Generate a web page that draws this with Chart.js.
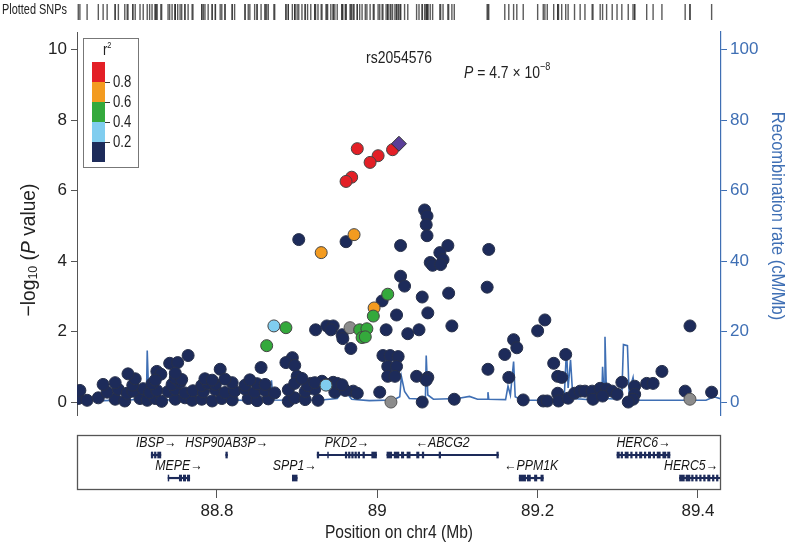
<!DOCTYPE html>
<html>
<head>
<meta charset="utf-8">
<script src="https://cdn.jsdelivr.net/npm/chart.js@4.4.1/dist/chart.umd.min.js"></script>
<style>
  html, body { margin: 0; padding: 0; background: #fff; }
  #wrap { position: relative; width: 791px; height: 547px; overflow: hidden; }
  canvas { position: absolute; left: 0; }
  #mainChart { top: 0; }
  #snpStrip { top: 0; }
  #geneChart { top: 425px; }
</style>
</head>
<body>
<div id="wrap">
  <canvas id="mainChart" width="791" height="430"></canvas>
  <canvas id="snpStrip" width="791" height="24"></canvas>
  <canvas id="geneChart" width="791" height="122"></canvas>
</div>
<script>
// SNPs: [position on chr4 (Mb), -log10 P], grouped by r2 with the lead SNP
const SNP_NAVY = [
  [88.902,4.61],[88.961,4.55],[89.029,4.44],[89.059,5.45],[89.062,5.28],[89.061,5.03],[89.062,4.72],
  [89.088,4.44],[89.078,4.24],[89.082,4.04],[89.066,3.96],[89.069,3.88],[89.079,3.90],[89.029,3.57],
  [89.034,3.29],[89.139,4.33],[89.137,3.26],[89.056,2.98],[89.006,2.87],[89.024,2.47],[89.089,3.09],
  [89.063,2.53],[89.093,2.16],[89.038,1.94],[89.052,2.05],[89.011,2.05],[89.200,2.02],[89.209,2.33],
  [89.170,1.77],[89.174,1.54],[89.159,1.35],[89.138,0.93],[88.923,2.05],[88.937,2.16],[88.945,2.16],
  [88.942,2.05],[88.956,1.91],[88.957,1.80],[88.967,1.52],[89.007,1.32],[89.016,1.32],[89.026,1.29],
  [89.013,1.01],[89.024,1.01],[89.013,0.73],[89.022,0.73],[89.049,0.73],[89.056,0.00],[89.063,0.70],
  [89.061,0.62],[89.164,0.70],[89.096,0.08],[89.182,0.06],[89.207,0.03],[89.212,0.03],[89.220,1.10],
  [89.235,1.35],[89.225,0.73],[89.230,0.70],[89.225,0.25],[89.226,0.03],[89.238,0.11],[89.246,0.25],
  [89.253,0.31],[89.259,0.31],[89.268,0.31],[89.269,0.08],[89.278,0.39],[89.286,0.37],[89.293,0.31],
  [89.299,0.22],[89.281,0.17],[89.305,0.56],[89.321,0.45],[89.321,0.22],[89.319,0.08],[89.313,0.00],
  [89.336,0.53],[89.344,0.53],[89.355,0.87],[89.390,2.16],[89.384,0.31],[89.417,0.28],
  [88.764,1.32],[88.741,1.10],[88.751,1.12],[88.725,0.87],[88.730,0.79],[88.804,0.93],[88.855,0.98],
  [88.894,1.26],[88.886,1.12],[88.897,1.04],[88.900,0.73],[88.917,0.53],[88.931,0.59],[88.945,0.56],
  [88.956,0.45],[88.970,0.31],[89.003,0.28],
  [88.627,0.10],[88.638,0.05],[88.652,0.12],[88.673,0.08],[88.685,0.03],[88.704,0.10],[88.713,0.05],
  [88.723,0.10],[88.731,0.02],[88.748,0.08],[88.760,0.12],[88.769,0.05],[88.781,0.08],[88.794,0.03],
  [88.806,0.10],[88.819,0.06],[88.839,0.10],[88.850,0.04],[88.864,0.09],[88.889,0.02],[88.897,0.12],
  [88.910,0.07],[88.926,0.05],
  [88.629,0.33],[88.663,0.28],[88.677,0.36],[88.688,0.25],[88.695,0.31],[88.708,0.38],[88.716,0.27],
  [88.725,0.33],[88.739,0.30],[88.748,0.36],[88.760,0.26],[88.770,0.32],[88.783,0.29],[88.798,0.35],
  [88.810,0.27],[88.822,0.31],[88.835,0.37],[88.847,0.28],[88.860,0.33],[88.872,0.26],[88.889,0.35],
  [88.910,0.30],[88.922,0.36],[88.947,0.28],[88.960,0.33],[88.975,0.25],
  [88.658,0.50],[88.673,0.55],[88.695,0.48],[88.719,0.52],[88.744,0.50],[88.754,0.56],[88.781,0.47],
  [88.789,0.53],[88.798,0.50],[88.819,0.55],[88.835,0.48],[88.850,0.52],[88.860,0.50],[88.897,0.53],
  [88.913,0.47],[88.922,0.55],[88.938,0.50],[88.950,0.53],[88.956,0.49],
  [88.698,0.66],[88.723,0.62],[88.748,0.68],[88.756,0.64],[88.785,0.66],[88.794,0.62],[88.810,0.65],
  [88.841,0.63],[88.906,0.67],[88.689,0.80],[88.748,0.82]
];
const SNP_LIGHTBLUE = [[88.871,2.16],[88.936,0.48]];
const SNP_GREEN = [[88.995,2.44],[89.013,3.06],[88.886,2.11],[88.862,1.60],[88.978,2.05],[88.987,2.08],[88.981,1.83],[88.985,1.85]];
const SNP_ORANGE = [[88.971,4.75],[88.930,4.24],[88.996,2.67]];
const SNP_RED = [[88.975,7.19],[89.001,6.99],[88.991,6.80],[88.968,6.38],[88.961,6.26],[89.019,7.16]];
const SNP_GRAY = [[88.966,2.11],[89.017,0.00],[89.390,0.08]];
const LEAD_SNP = [[89.027,7.33]];
const LEAD_NAME = 'rs2054576';

// recombination rate: [position (Mb), cM/Mb]
const RECOMB_RATE = [
  [88.624,0.3],[88.640,0.5],[88.652,1.2],[88.658,0.4],[88.690,0.6],[88.705,0.8],[88.712,1.0],[88.713,14.6],
  [88.715,0.8],[88.740,0.6],[88.760,0.5],[88.790,1.5],[88.795,0.5],[88.820,0.6],[88.845,0.4],[88.866,0.6],
  [88.868,6.2],[88.870,0.6],[88.900,0.5],[88.930,0.6],[88.950,1.0],[88.955,2.5],[88.962,2.5],[88.968,0.8],
  [88.990,0.4],[89.020,0.6],[89.028,1.5],[89.030,7.3],[89.034,3.0],[89.040,1.0],[89.060,0.8],[89.061,13.2],
  [89.063,2.0],[89.070,0.8],[89.100,1.0],[89.115,1.6],[89.125,0.8],[89.137,0.8],[89.138,2.8],[89.139,0.8],
  [89.160,0.7],[89.163,4.5],[89.166,2.0],[89.170,11.5],[89.172,1.5],[89.180,0.5],[89.233,0.5],[89.236,15.2],
  [89.238,4.0],[89.241,12.0],[89.244,1.0],[89.270,0.6],[89.280,0.8],[89.281,10.0],[89.283,1.0],[89.284,18.5],
  [89.286,1.0],[89.300,0.8],[89.305,2.0],[89.307,16.3],[89.312,16.0],[89.314,3.0],[89.319,7.0],[89.322,0.5],
  [89.410,0.5],[89.420,1.5],[89.430,0.8]
];

// genes
const GENE_NAMES  = ['IBSP','HSP90AB3P','PKD2','ABCG2','HERC6','MEPE','SPP1','PPM1K','HERC5'];
const GENE_START  = [88.718, 88.811, 88.925, 89.012, 89.299, 88.739, 88.894, 89.177, 89.377];
const GENE_END    = [88.730, 88.813, 88.999, 89.151, 89.365, 88.766, 88.900, 89.207, 89.430];
const GENE_STRAND = [1, 1, 1, -1, 1, 1, 1, -1, 1];
const GENE_ROW    = [1, 1, 1, 1, 1, 2, 2, 2, 2];
const GENE_EXONS  = [
  [[88.718,88.720],[88.722,88.724],[88.726,88.730]],
  [[88.811,88.813]],
  [[88.925,88.927],[88.938,88.939],[88.960,88.962],[88.964,88.966],[88.968,88.970],[88.972,88.974],[88.976,88.978],[88.982,88.984],[88.993,88.999]],
  [[89.012,89.018],[89.021,89.027],[89.030,89.033],[89.037,89.041],[89.049,89.052],[89.056,89.058],[89.077,89.079],[89.149,89.151]],
  [[89.299,89.302],[89.304,89.306],[89.309,89.313],[89.316,89.318],[89.322,89.324],[89.327,89.330],[89.333,89.335],[89.338,89.341],[89.344,89.346],[89.349,89.353],[89.356,89.360],[89.362,89.365]],
  [[88.739,88.740],[88.753,88.756],[88.758,88.761],[88.763,88.766]],
  [[88.894,88.900]],
  [[89.177,89.185],[89.187,89.191],[89.196,89.199],[89.204,89.207]],
  [[89.377,89.383],[89.385,89.390],[89.392,89.394],[89.397,89.399],[89.402,89.404],[89.407,89.409],[89.412,89.415],[89.418,89.420],[89.423,89.425],[89.428,89.430]]
];

// ticks
const POS_TICKS = [88.8, 89, 89.2, 89.4];
const POS_TICK_LABELS = ['88.8', '89', '89.2', '89.4'];
const LOGP_TICKS = [0, 2, 4, 6, 8, 10];
const RECOMB_TICKS = [0, 20, 40, 60, 80, 100];
const LD_LABELS = ['0.2', '0.4', '0.6', '0.8'];

const X_MIN = 88.6254, X_MAX = 89.4287;
const FONT = '"Liberation Sans", Arial, sans-serif';
const NARROW = 0.82;   // no condensed face installed, squeeze hand drawn text instead
const BLUE = '#3f6fb4';
const LD_COLORS = ['#1d2b5a', '#80cdef', '#34a93c', '#f39b20', '#e31f26'];

Chart.defaults.font.family = FONT;

function pts(arr) {
    return arr.map(function (p) { return { x: p[0], y: p[1] }; });
}

// mixed-font text, squeezed horizontally
function richText(ctx, parts, x, y, align, sx) {
    sx = sx || NARROW;
    var total = 0;
    parts.forEach(function (p) { ctx.font = p.font; p.w = ctx.measureText(p.t).width; total += p.w; });
    ctx.save();
    ctx.translate(x, y);
    ctx.scale(sx, 1);
    var cx = align === 'center' ? -total / 2 : (align === 'right' ? -total : 0);
    ctx.textAlign = 'left';
    parts.forEach(function (p) {
        ctx.font = p.font;
        ctx.fillText(p.t, cx, p.dy || 0);
        cx += p.w;
    });
    ctx.restore();
    return total * sx;
}

function snpSet(arr, fill, edge, order) {
    return {
        type: 'scatter', data: pts(arr), yAxisID: 'y',
        backgroundColor: fill, borderColor: edge, borderWidth: 1,
        pointRadius: 6, order: order
    };
}

// decorations of the main panel: r2 key, lead SNP text, axis titles
var mainDecor = {
    id: 'mainDecor',
    afterDraw: function (chart) {
        var ctx = chart.ctx;
        var xs = chart.scales.x;
        ctx.save();
        ctx.textBaseline = 'middle';

        // r2 key
        ctx.fillStyle = '#fff';
        ctx.fillRect(83.5, 38.5, 55, 129);
        ctx.strokeStyle = '#777';
        ctx.lineWidth = 1;
        ctx.strokeRect(83.5, 38.5, 55, 129);
        for (var i = 0; i < 5; i++) {
            ctx.fillStyle = LD_COLORS[i];
            ctx.fillRect(92, 142 - i * 20, 13, 20);
        }
        ctx.strokeStyle = '#333';
        ctx.fillStyle = '#222';
        LD_LABELS.forEach(function (lab, k) {
            var yy = 142 - k * 20 + 0.5;
            ctx.beginPath();
            ctx.moveTo(105, yy);
            ctx.lineTo(110, yy);
            ctx.stroke();
            richText(ctx, [{ t: lab, font: '16px ' + FONT }], 113, yy, 'left');
        });
        richText(ctx, [
            { t: 'r', font: '16px ' + FONT },
            { t: '2', font: '9px ' + FONT, dy: -5 }
        ], 103, 51, 'left');

        // lead SNP label and p value
        var lx = xs.getPixelForValue(LEAD_SNP[0][0]);
        richText(ctx, [{ t: LEAD_NAME, font: '17px ' + FONT }], lx, 58, 'center');
        richText(ctx, [
            { t: 'P', font: 'italic 17px ' + FONT },
            { t: ' = 4.7 \u00d7 10', font: '17px ' + FONT },
            { t: '\u22128', font: '11px ' + FONT, dy: -6 }
        ], 464, 73, 'left');

        // left axis title
        ctx.save();
        ctx.translate(29, 250);
        ctx.rotate(-Math.PI / 2);
        richText(ctx, [
            { t: '\u2212log', font: '20px ' + FONT },
            { t: '10', font: '13px ' + FONT, dy: 4 },
            { t: ' (', font: '20px ' + FONT },
            { t: 'P', font: 'italic 20px ' + FONT },
            { t: ' value)', font: '20px ' + FONT }
        ], 0, 0, 'center', 0.96);
        ctx.restore();

        // right axis title
        ctx.save();
        ctx.translate(777, 216);
        ctx.rotate(Math.PI / 2);
        ctx.fillStyle = BLUE;
        richText(ctx, [{ t: 'Recombination rate (cM/Mb)', font: '19px ' + FONT }], 0, 0, 'center', 0.87);
        ctx.restore();

        ctx.restore();
    }
};

new Chart(document.getElementById('mainChart'), {
    type: 'scatter',
    data: {
        datasets: [
            {
                type: 'line', data: pts(RECOMB_RATE), yAxisID: 'yR',
                borderColor: BLUE, borderWidth: 1.6, pointRadius: 0, tension: 0, order: 10
            },
            snpSet(SNP_NAVY, LD_COLORS[0], '#27304a', 6),
            snpSet(SNP_LIGHTBLUE, LD_COLORS[1], '#444', 4),
            snpSet(SNP_GREEN, LD_COLORS[2], '#444', 4),
            snpSet(SNP_ORANGE, LD_COLORS[3], '#444', 4),
            snpSet(SNP_RED, LD_COLORS[4], '#444', 3),
            snpSet(SNP_GRAY, '#8c8c8c', '#555', 4),
            {
                type: 'scatter', data: pts(LEAD_SNP), yAxisID: 'y',
                pointStyle: 'rectRot', pointRadius: 7.5,
                backgroundColor: '#5a3e98', borderColor: '#333', borderWidth: 1, order: 1
            }
        ]
    },
    options: {
        responsive: false,
        animation: false,
        events: [],
        layout: { padding: { top: 32, bottom: 10, left: 0, right: 0 } },
        plugins: { legend: { display: false }, tooltip: { enabled: false } },
        scales: {
            x: { type: 'linear', min: X_MIN, max: X_MAX, display: false },
            y: {
                type: 'linear', position: 'left', min: -0.39, max: 10.5,
                afterBuildTicks: function (s) { s.ticks = LOGP_TICKS.map(function (v) { return { value: v }; }); },
                afterFit: function (s) { s.width = 77; },
                ticks: { font: { size: 17 }, color: '#222', padding: 4, callback: function (v) { return String(v); } },
                grid: { drawOnChartArea: false, tickLength: 6, color: '#555' },
                border: { color: '#555', width: 1 }
            },
            yR: {
                type: 'linear', position: 'right', min: -3.9, max: 105,
                afterBuildTicks: function (s) { s.ticks = RECOMB_TICKS.map(function (v) { return { value: v }; }); },
                afterFit: function (s) { s.width = 70; },
                ticks: { font: { size: 17 }, color: BLUE, padding: 3, callback: function (v) { return String(v); } },
                grid: { drawOnChartArea: false, tickLength: 6, color: BLUE },
                border: { color: BLUE, width: 1.2 }
            }
        }
    },
    plugins: [mainDecor]
});

// strip of plotted SNP positions
var allSnps = [].concat(SNP_NAVY, SNP_LIGHTBLUE, SNP_GREEN, SNP_ORANGE, SNP_RED, SNP_GRAY, LEAD_SNP);

var stripLabel = {
    id: 'stripLabel',
    afterDraw: function (chart) {
        var ctx = chart.ctx;
        ctx.save();
        ctx.fillStyle = '#222';
        ctx.textBaseline = 'middle';
        richText(ctx, [{ t: 'Plotted SNPs', font: '14px ' + FONT }], 2, 10, 'left', 0.78);
        ctx.restore();
    }
};

new Chart(document.getElementById('snpStrip'), {
    type: 'scatter',
    data: {
        datasets: [{
            data: allSnps.map(function (p) { return { x: p[0], y: 0.5 }; }),
            pointStyle: 'line', rotation: 90, pointRadius: 8,
            borderColor: 'rgba(50,50,50,0.8)', borderWidth: 1.4, clip: false
        }]
    },
    options: {
        responsive: false,
        animation: false,
        events: [],
        layout: { padding: { top: 2, bottom: 4, left: 77, right: 70 } },
        plugins: { legend: { display: false }, tooltip: { enabled: false } },
        scales: {
            x: { type: 'linear', min: X_MIN, max: X_MAX, display: false },
            y: { type: 'linear', min: 0, max: 1, display: false }
        }
    },
    plugins: [stripLabel]
});

// gene track
var geneDecor = {
    id: 'geneDecor',
    afterDraw: function (chart) {
        var ctx = chart.ctx;
        var a = chart.chartArea;
        var xs = chart.scales.x, ys = chart.scales.y;
        ctx.save();
        ctx.strokeStyle = '#555';
        ctx.lineWidth = 1.3;
        ctx.strokeRect(a.left + 0.5, a.top + 0.5, a.right - a.left - 1, a.bottom - a.top - 1);
        ctx.fillStyle = '#151515';
        ctx.textBaseline = 'middle';
        var font = 'italic 15px ' + FONT;
        GENE_NAMES.forEach(function (name, i) {
            var label = GENE_STRAND[i] > 0 ? name + '\u2192' : '\u2190' + name;
            ctx.font = font;
            var w = ctx.measureText(label).width * NARROW;
            var cx = (xs.getPixelForValue(GENE_START[i]) + xs.getPixelForValue(GENE_END[i])) / 2;
            cx = Math.min(Math.max(cx, a.left + w / 2 + 3), a.right - w / 2 - 3);
            richText(ctx, [{ t: label, font: font }], cx, ys.getPixelForValue(GENE_ROW[i]) - 12, 'center');
        });
        // x axis title
        ctx.fillStyle = '#222';
        richText(ctx, [{ t: 'Position on chr4 (Mb)', font: '19px ' + FONT }], (a.left + a.right) / 2, 108, 'center');
        ctx.restore();
    }
};

var exonBars = [];
GENE_EXONS.forEach(function (list, i) {
    list.forEach(function (e) { exonBars.push({ x: [e[0], e[1]], y: GENE_ROW[i] }); });
});

new Chart(document.getElementById('geneChart'), {
    type: 'bar',
    data: {
        datasets: [
            {
                data: GENE_NAMES.map(function (n, i) { return { x: [GENE_START[i], GENE_END[i]], y: GENE_ROW[i] }; }),
                backgroundColor: '#1d2b5a', barThickness: 1.5, grouped: false
            },
            {
                data: exonBars,
                backgroundColor: '#1d2b5a', barThickness: 6, grouped: false
            }
        ]
    },
    options: {
        indexAxis: 'y',
        responsive: false,
        animation: false,
        events: [],
        layout: { padding: { top: 10, bottom: 0, left: 77, right: 70 } },
        plugins: { legend: { display: false }, tooltip: { enabled: false } },
        scales: {
            x: {
                type: 'linear', position: 'bottom', min: X_MIN, max: X_MAX,
                afterBuildTicks: function (s) { s.ticks = POS_TICKS.map(function (v) { return { value: v }; }); },
                afterFit: function (s) { s.height = 57; },
                ticks: {
                    font: { size: 17 }, color: '#222', padding: 3,
                    callback: function (v, idx) { return POS_TICK_LABELS[idx]; }
                },
                grid: { drawOnChartArea: false, tickLength: 8, color: '#555' },
                border: { display: false }
            },
            y: { type: 'linear', min: 0.13, max: 2.52, reverse: true, offset: false, display: false }
        }
    },
    plugins: [geneDecor]
});
</script>
</body>
</html>
